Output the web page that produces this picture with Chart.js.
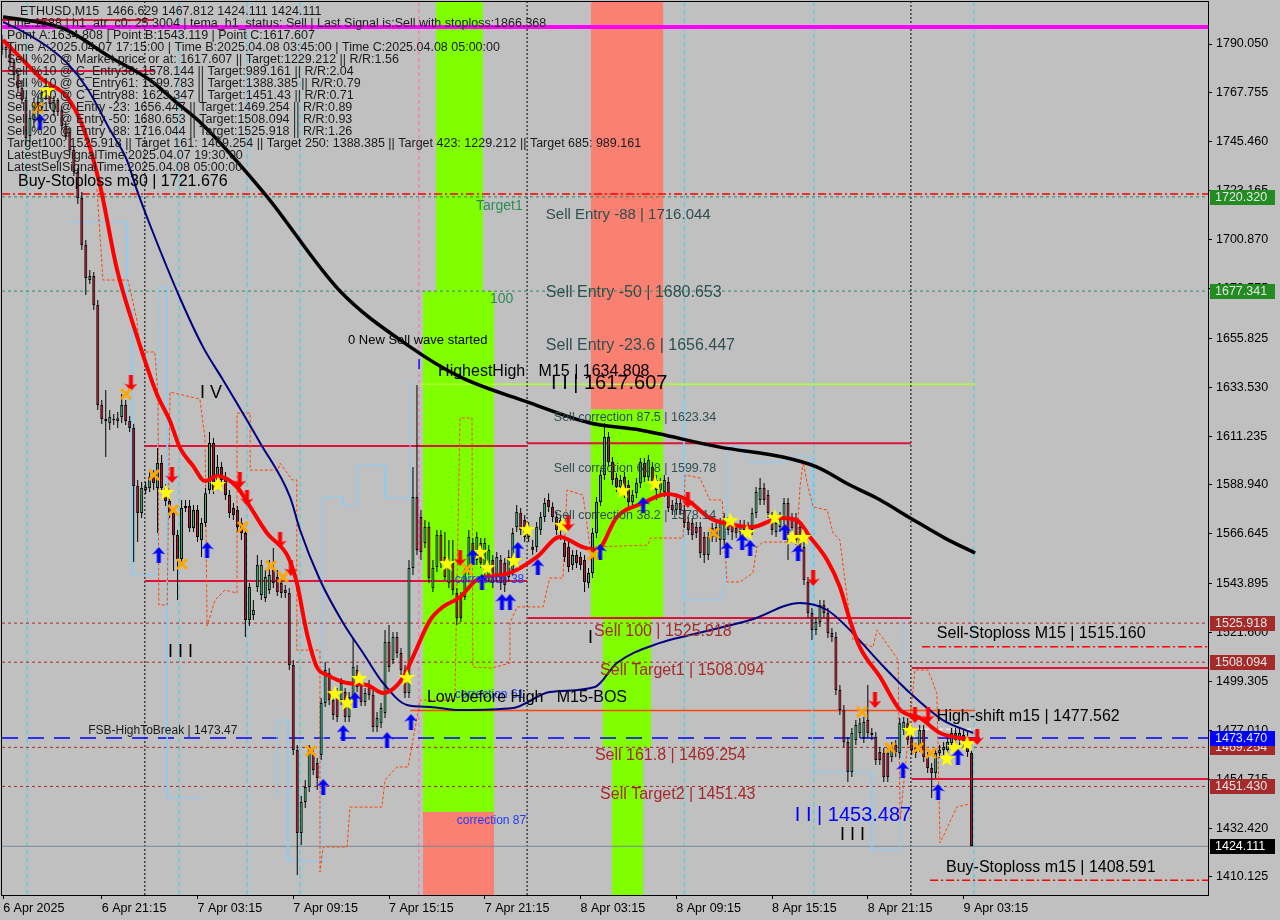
<!DOCTYPE html>
<html lang="en">
<head>
<meta charset="UTF-8">
<title>ETHUSD,M15</title>
<script src="https://cdn.jsdelivr.net/npm/chart.js"></script>
<style>
  html, body { margin: 0; padding: 0; background: #c0c0c0; }
  canvas { display: block; }
</style>
</head>
<body>
<canvas id="ethChart" width="1280" height="920"></canvas>
<script>
const FONT = '"Liberation Sans", Arial, sans-serif';

// M15 candles, bar 0 = 6 Apr 15:00
const opens = [1791.9,1787.3,1788.7,1781.8,1775.9,1770.0,1764.5,1748.1,1755.4,1763.6,
 1760.9,1767.2,1769.1,1759.0,1764.5,1759.9,1752.6,1749.9,1741.7,1731.7,
 1719.8,1698.4,1682.4,1684.2,1671.0,1625.4,1619.0,1617.2,1619.0,1618.1,
 1619.9,1625.4,1618.1,1614.9,1588.5,1576.1,1586.6,1587.5,1592.6,1587.5,
 1598.9,1587.5,1581.6,1576.1,1566.1,1555.2,1578.4,1579.3,1569.3,1577.5,
 1563.8,1571.6,1586.6,1608.1,1591.2,1597.1,1592.6,1584.3,1578.4,1577.5,
 1571.6,1567.0,1527.3,1529.6,1542.4,1538.7,1537.4,1541.0,1550.2,1546.9,
 1544.2,1541.0,1539.6,1506.8,1468.0,1430.2,1444.3,1451.2,1466.7,1462.1,
 1465.8,1489.5,1503.2,1490.8,1494.5,1490.8,1494.5,1483.1,1492.2,1504.5,
 1497.7,1489.9,1497.7,1493.1,1478.5,1480.3,1484.9,1517.3,1509.1,1519.6,
 1512.3,1504.5,1494.0,1551.0,1583.4,1574.3,1562.5,1569.8,1541.9,1551.5,
 1566.1,1556.1,1544.2,1553.3,1539.6,1537.8,1537.8,1550.2,1562.5,1554.7,
 1562.5,1550.2,1546.9,1554.7,1546.9,1554.7,1553.3,1546.9,1550.2,1569.8,
 1576.1,1572.9,1565.2,1560.6,1560.6,1568.4,1574.3,1582.1,1578.9,1574.3,
 1568.4,1562.5,1560.6,1552.4,1557.0,1556.1,1554.7,1544.2,1548.8,1567.0,
 1581.2,1593.5,1610.8,1599.4,1592.1,1588.0,1592.6,1588.9,1581.2,1585.2,
 1589.8,1598.9,1592.6,1597.1,1591.2,1586.6,1585.7,1590.3,1579.8,1577.5,
 1580.7,1577.5,1572.0,1571.6,1569.8,1569.8,1565.2,1557.0,1565.2,1569.8,
 1563.8,1563.8,1572.0,1570.7,1569.3,1567.5,1570.7,1569.8,1568.4,1576.1,
 1582.1,1587.5,1584.3,1574.3,1567.5,1569.8,1572.9,1580.7,1573.9,1573.9,
 1569.8,1560.6,1544.7,1530.5,1522.8,1526.4,1534.2,1530.5,1521.4,1519.6,
 1495.4,1486.3,1471.7,1458.0,1472.6,1475.8,1473.5,1481.7,1475.8,1474.0,
 1467.1,1466.7,1466.7,1464.9,1470.3,1466.7,1477.2,1480.3,1473.5,1469.0,
 1469.4,1477.2,1464.9,1459.8,1457.6,1466.7,1468.0,1468.0,1471.2,1475.8,
 1472.6,1474.9,1474.0,1466.629];
const highs = [1794.2,1791.0,1790.0,1782.8,1778.2,1773.6,1765.9,1760.0,1765.4,1766.3,
 1770.0,1771.8,1770.9,1766.3,1765.4,1761.8,1754.5,1751.7,1743.5,1733.5,
 1722.6,1700.7,1687.0,1686.1,1673.3,1627.7,1632.2,1623.1,1621.3,1622.2,
 1630.4,1627.7,1620.4,1616.7,1591.2,1590.3,1590.3,1595.7,1595.7,1605.8,
 1602.6,1589.4,1583.9,1578.4,1568.4,1582.1,1582.1,1582.1,1579.8,1579.8,
 1573.9,1587.5,1613.1,1610.3,1602.6,1599.4,1594.8,1586.6,1580.7,1579.3,
 1573.9,1569.3,1544.2,1536.5,1557.0,1554.7,1550.2,1554.7,1560.2,1550.2,
 1546.5,1543.3,1541.9,1509.1,1470.3,1447.1,1454.4,1470.3,1469.0,1464.4,
 1491.8,1508.2,1505.4,1493.1,1496.3,1500.9,1496.3,1494.5,1519.1,1506.8,
 1500.0,1496.3,1500.0,1495.4,1485.4,1489.5,1522.8,1525.1,1521.9,1521.9,
 1514.6,1506.8,1554.7,1597.1,1634.5,1577.5,1572.9,1572.0,1554.7,1568.4,
 1568.4,1567.5,1563.8,1563.8,1541.9,1540.1,1552.4,1568.4,1564.7,1567.5,
 1564.7,1564.7,1561.5,1557.0,1558.4,1557.0,1555.6,1559.3,1569.3,1579.8,
 1578.4,1575.2,1572.0,1563.8,1572.0,1576.6,1583.0,1585.2,1581.1,1576.6,
 1575.2,1564.7,1562.9,1559.3,1559.3,1558.4,1557.0,1551.0,1569.3,1583.4,
 1595.7,1617.2,1613.1,1601.7,1594.4,1593.5,1594.8,1591.2,1586.6,1592.1,
 1601.2,1601.2,1602.6,1599.4,1593.5,1592.1,1593.5,1592.6,1582.1,1583.0,
 1583.0,1579.8,1574.3,1573.9,1572.0,1572.0,1567.5,1567.5,1571.6,1572.0,
 1573.9,1576.1,1574.3,1572.9,1571.6,1572.9,1572.9,1572.0,1578.4,1588.0,
 1592.1,1589.8,1586.6,1576.6,1573.9,1576.6,1583.0,1583.0,1576.1,1576.1,
 1572.0,1562.9,1547.0,1532.8,1528.7,1536.5,1536.5,1532.8,1523.7,1521.9,
 1497.7,1488.6,1474.0,1478.1,1481.7,1482.6,1483.1,1497.7,1478.1,1476.3,
 1469.4,1469.0,1469.0,1471.7,1472.6,1482.6,1483.1,1482.6,1475.8,1471.2,
 1479.4,1479.4,1467.1,1462.1,1469.0,1470.3,1471.7,1474.0,1478.1,1478.1,
 1478.1,1477.2,1476.3,1467.812];
const lows = [1785.0,1783.7,1780.0,1773.6,1768.2,1762.7,1744.0,1745.4,1751.7,1757.2,
 1759.0,1764.5,1760.9,1757.2,1757.2,1750.8,1746.3,1739.4,1729.9,1717.1,
 1696.1,1675.6,1680.6,1668.7,1623.1,1616.7,1601.7,1614.0,1616.3,1614.9,
 1617.2,1616.3,1613.1,1553.8,1562.9,1573.9,1584.8,1585.7,1586.6,1567.0,
 1585.7,1579.3,1573.9,1549.7,1536.5,1553.3,1576.6,1567.5,1567.5,1562.9,
 1556.1,1569.8,1584.8,1584.8,1589.4,1588.5,1582.1,1573.9,1572.9,1567.5,
 1563.8,1519.6,1524.6,1527.3,1540.1,1536.5,1535.6,1539.2,1541.9,1538.3,
 1537.4,1537.4,1504.5,1465.8,1411.0,1424.7,1441.6,1448.9,1456.6,1449.8,
 1463.5,1487.7,1488.6,1481.7,1480.8,1488.6,1480.8,1480.8,1490.8,1494.5,
 1488.1,1488.1,1490.8,1476.3,1476.3,1478.1,1482.6,1503.6,1507.3,1510.0,
 1502.3,1491.8,1491.8,1547.9,1557.0,1554.7,1560.2,1544.2,1540.1,1549.2,
 1551.0,1545.6,1541.9,1538.7,1525.1,1526.4,1536.5,1547.9,1553.8,1552.4,
 1551.0,1547.9,1544.7,1541.9,1544.7,1541.0,1540.1,1544.7,1547.9,1567.5,
 1566.1,1562.9,1562.9,1557.0,1558.4,1566.1,1572.0,1576.6,1572.0,1566.1,
 1563.8,1553.8,1549.2,1550.2,1551.0,1550.2,1540.1,1541.9,1546.5,1564.7,
 1579.3,1591.2,1597.1,1588.9,1585.7,1585.7,1583.0,1578.9,1578.9,1583.0,
 1587.5,1590.3,1590.3,1588.0,1582.1,1584.3,1583.4,1576.6,1575.2,1575.2,
 1575.2,1569.3,1566.1,1563.8,1564.7,1555.6,1553.3,1554.7,1562.9,1562.9,
 1557.0,1561.5,1566.1,1563.8,1564.7,1565.2,1566.1,1565.2,1566.1,1573.9,
 1579.8,1579.8,1573.9,1566.1,1565.2,1567.5,1570.7,1554.7,1567.0,1561.5,
 1558.4,1543.3,1528.3,1518.2,1520.5,1524.1,1528.3,1519.1,1517.3,1493.1,
 1484.0,1469.4,1453.5,1455.7,1470.3,1473.5,1471.2,1473.5,1472.6,1461.2,
 1461.2,1453.5,1453.5,1462.6,1464.9,1464.4,1474.9,1470.3,1465.8,1464.4,
 1467.1,1462.6,1457.6,1446.1,1455.3,1464.4,1465.8,1465.8,1469.0,1470.3,
 1470.3,1469.0,1464.9,1424.111];
const closes = [1787.3,1788.7,1781.8,1775.9,1770.0,1764.5,1747.2,1756.3,1763.6,1759.9,
 1768.2,1770.0,1762.7,1764.5,1759.0,1752.6,1748.1,1741.7,1731.7,1719.8,
 1698.4,1683.3,1684.2,1671.0,1625.4,1619.0,1618.1,1619.9,1618.6,1619.4,
 1625.4,1618.1,1614.9,1588.5,1576.1,1587.5,1588.0,1592.6,1589.8,1598.9,
 1587.5,1581.6,1576.1,1566.1,1555.2,1578.4,1579.3,1569.3,1577.5,1565.2,
 1571.6,1585.2,1608.1,1586.6,1597.1,1591.2,1584.3,1576.1,1575.2,1569.8,
 1567.0,1527.3,1542.4,1531.9,1552.4,1552.4,1546.9,1547.9,1544.2,1540.1,
 1539.6,1539.6,1506.8,1468.0,1430.2,1444.3,1451.2,1468.0,1458.9,1455.3,
 1489.5,1504.5,1490.8,1484.0,1483.1,1498.6,1483.1,1492.2,1505.9,1496.8,
 1489.9,1494.0,1493.1,1478.5,1482.6,1487.2,1517.3,1505.9,1519.6,1512.3,
 1504.5,1494.0,1551.0,1583.4,1559.3,1558.4,1569.8,1546.5,1551.0,1566.1,
 1553.3,1546.9,1553.3,1541.0,1528.3,1528.3,1550.2,1565.2,1556.1,1565.2,
 1553.3,1562.5,1559.3,1544.2,1556.1,1544.2,1543.3,1556.1,1567.0,1576.6,
 1568.4,1565.2,1569.8,1559.3,1569.8,1574.3,1580.7,1578.9,1574.3,1568.4,
 1572.9,1556.1,1551.5,1557.0,1553.3,1552.4,1544.7,1548.8,1567.0,1581.2,
 1593.5,1610.8,1599.4,1591.2,1588.0,1591.2,1585.2,1581.2,1584.3,1589.8,
 1599.4,1592.6,1600.3,1590.3,1586.6,1589.8,1591.2,1578.4,1577.5,1580.7,
 1577.5,1571.6,1568.4,1566.1,1567.0,1557.9,1557.0,1565.2,1569.3,1565.2,
 1571.6,1573.9,1568.4,1567.5,1567.0,1570.7,1568.4,1567.5,1576.1,1585.7,
 1587.5,1582.1,1576.1,1568.4,1571.6,1574.3,1580.7,1567.0,1569.3,1563.8,
 1560.6,1545.6,1530.5,1522.8,1526.4,1534.2,1530.5,1521.4,1519.6,1495.4,
 1486.3,1471.7,1458.0,1475.8,1479.4,1480.3,1480.8,1475.8,1474.9,1463.5,
 1463.5,1455.7,1455.7,1469.4,1467.1,1480.3,1480.8,1472.6,1468.0,1466.7,
 1477.2,1464.9,1459.8,1457.6,1466.7,1468.0,1469.4,1471.7,1475.8,1472.6,
 1475.8,1471.2,1467.1,1424.111];

// axis ticks
const xTickPos = [0.3, 25, 49, 73, 97, 121, 145, 169, 193, 217, 241];
const xTickLabels = ['6 Apr 2025', '6 Apr 21:15', '7 Apr 03:15', '7 Apr 09:15', '7 Apr 15:15',
  '7 Apr 21:15', '8 Apr 03:15', '8 Apr 09:15', '8 Apr 15:15', '8 Apr 21:15', '9 Apr 03:15'];
const yTickValues = [1790.050, 1767.755, 1745.460, 1723.165, 1700.870, 1678.575, 1655.825, 1633.530,
  1611.235, 1588.940, 1566.645, 1543.895, 1521.600, 1499.305, 1477.010, 1454.715, 1432.420, 1410.125];
const X_MAX = 302.26, Y_MIN = 1401.91, Y_MAX = 1809.21;

// moving averages, read as [bar, price]
const blackMA = [[0.25,1802.4],[10.3,1799.6],[16.3,1796.4],[27.1,1784.1],[37.1,1773.6],[43.9,1763.1],
  [49.6,1754.5],[65.9,1721.6],[84.7,1677.4],[102.3,1651.9],[114.8,1638.2],[131.6,1626.8],[147.4,1617.2],
  [159.9,1614.0],[179.9,1606.2],[195.7,1601.7],[204.3,1597.1],[212.5,1588.9],[220.1,1582.1],[227.6,1573.9],
  [236.3,1564.7],[243.9,1557.9]];
const navyMA = [[0.25,1800.1],[4.5,1796.4],[10.8,1789.6],[16.3,1781.4],[21.3,1770.0],[27.1,1750.8],
  [31.3,1737.1],[33.8,1723.5],[37.1,1707.5],[44.6,1674.2],[50.4,1651.8],[55.4,1636.8],[64.7,1608.1],
  [72.2,1583.4],[74.7,1568.4],[79.7,1545.6],[85.5,1526.0],[90.5,1512.3],[95.5,1498.6],[101.5,1488.6],
  [107.3,1487.7],[114.8,1486.3],[128.1,1487.2],[137.3,1494.5],[148.6,1496.8],[154.1,1507.7],[164.9,1516.9],
  [172.4,1520.5],[187.5,1527.3],[200.0,1535.1],[206.8,1531.9],[211.8,1524.1],[220.1,1507.7],[227.6,1494.0],
  [235.8,1481.7],[243.4,1475.8]];
const redMA = [[0.25,1791.9],[4.5,1784.1],[10.3,1773.6],[16.3,1765.9],[20.3,1752.2],[24.6,1725.3],
  [28.8,1687.4],[33.8,1656.9],[38.8,1630.4],[42.1,1618.1],[44.6,1605.8],[47.9,1597.6],[50.9,1590.7],
  [53.9,1593.0],[58.9,1588.0],[62.2,1578.9],[66.4,1567.0],[71.7,1556.1],[73.9,1544.2],[76.4,1521.4],
  [78.9,1505.9],[81.5,1502.3],[86.5,1498.6],[91.5,1497.7],[95.5,1494.0],[100.5,1500.9],[103.0,1510.5],
  [107.3,1527.3],[110.5,1533.3],[114.8,1537.8],[119.0,1545.6],[127.3,1548.8],[134.1,1556.1],[139.8,1565.2],
  [145.6,1560.6],[149.1,1559.3],[154.1,1574.3],[160.7,1580.7],[166.7,1584.8],[171.7,1582.1],[177.4,1573.9],
  [183.2,1570.7],[188.2,1569.8],[195.0,1573.9],[199.2,1572.9],[202.5,1565.2],[206.8,1554.7],[210.0,1542.4],
  [212.5,1527.3],[215.0,1515.0],[220.1,1501.3],[225.1,1486.3],[230.1,1482.6],[235.1,1475.8],[240.1,1473.5],
  [244.4,1472.6]];
const envelope = [[23.8,1723.9],[25.3,1682.4],[31.6,1682.4],[33.8,1664.2],[34.6,1649.6],[38.3,1649.6],
  [39.1,1630.0],[39.3,1534.2],[41.4,1534.2],[42.1,1631.3],[49.6,1628.1],[50.9,1609.9],[51.4,1524.6],
  [53.4,1536.5],[55.9,1541.0],[58.9,1539.6],[58.9,1621.7],[62.2,1621.7],[62.2,1595.7],[69.2,1595.7],
  [69.7,1598.9],[72.7,1591.2],[73.9,1591.2],[73.9,1513.6],[79.7,1513.6],[79.7,1412.4],[80.5,1423.8],
  [86.5,1423.8],[87.2,1442.0],[95.2,1442.0],[96.0,1454.4],[99.0,1460.3],[101.8,1460.3],[103.0,1472.6],
  [104.8,1490.8],[113.5,1490.8],[114.8,1619.5],[117.8,1619.5],[118.0,1505.9],[122.8,1505.4],[127.3,1507.7],
  [127.3,1526.0],[129.1,1533.3],[135.6,1533.3],[137.3,1546.5],[140.6,1546.5],[141.6,1586.6],[145.6,1584.3],
  [147.4,1560.6],[161.9,1561.5],[162.4,1564.7],[170.7,1564.7],[171.2,1593.5],[174.9,1592.1],[177.4,1582.1],
  [180.5,1582.1],[181.7,1544.7],[185.0,1544.7],[188.2,1548.8],[189.2,1560.6],[190.7,1562.9],[199.2,1562.9],
  [200.0,1588.0],[200.8,1599.4],[201.8,1589.8],[203.3,1578.9],[206.8,1577.5],[208.3,1567.0],[210.0,1563.8],
  [211.8,1537.8],[213.3,1518.2],[218.3,1515.0],[219.3,1522.8],[224.6,1509.1],[225.1,1436.1],[228.8,1504.5],
  [232.1,1504.5],[234.3,1494.0],[235.1,1425.6],[239.3,1442.0],[243.4,1443.9]];
// stepped channel, null price = break
const stepChannel = [[16.3,1708.9],[31.3,1708.9],[31.3,1669.2],[32.6,1669.2],[32.6,1547.9],[38.8,1547.9],
  [39.3,1679.2],[41.4,1679.2],[41.4,1446.1],[50.4,1446.1],[50.5,null],
  [68.9,1446.6],[68.9,1481.7],[71.7,1481.7],[71.7,1417.9],[80.5,1417.0],[80.5,1583.4],[85.5,1583.4],
  [85.5,1579.8],[89.0,1579.8],[89.0,1598.0],[96.0,1598.0],[96.0,1583.0],[102.3,1583.0],[102.3,1636.8],
  [102.4,null],
  [170.9,1627.7],[170.9,1536.5],[180.7,1536.5],[181.7,1557.9],[181.7,1606.2],[185.0,1606.2],[187.5,1599.4],
  [195.7,1599.4],[199.2,1602.6],[203.0,1601.7],[203.0,1490.8],[203.3,1458.0],[218.0,1458.0],[218.0,1422.4],
  [225.1,1422.4],[225.8,1527.3]];

// signal markers
const stars = [[11.3,1769.1],[41.1,1585.7],[54.1,1589.4],[83.5,1494.0],[86.5,1489.9],[89.5,1500.9],
  [101.5,1501.3],[111.5,1553.3],[119.8,1558.4],[121.6,1551.5],[128.3,1554.7],[131.6,1568.8],[140.4,1570.7],
  [155.6,1586.6],[163.7,1589.8],[182.5,1572.9],[186.7,1567.5],[193.7,1574.3],[198.0,1565.2],[200.8,1565.2],
  [227.6,1477.2],[236.8,1464.4],[238.8,1469.4],[241.9,1471.2]];
const crosses = [[9.0,1760.9],[31.1,1630.4],[38.1,1593.5],[42.9,1577.5],[45.1,1552.9],[60.4,1569.8],
  [67.4,1552.0],[70.4,1546.9],[77.4,1467.6],[116.5,1550.6],[148.1,1557.0],[178.4,1567.0],[215.5,1485.4],
  [222.6,1469.0],[229.6,1469.0],[232.8,1466.7]];
const upArrows = [[9.5,1754.5],[39.3,1557.0],[51.4,1559.3],[80.5,1451.2],[85.5,1475.8],[88.5,1490.8],
  [96.5,1472.6],[102.5,1480.8],[118.0,1556.1],[120.3,1544.7],[125.3,1535.5],[127.3,1535.5],[129.3,1559.3],
  [134.3,1551.5],[149.9,1558.4],[160.7,1579.8],[181.7,1559.3],[185.5,1562.9],[187.5,1560.2],[196.2,1567.5],
  [199.5,1557.9],[225.8,1458.9],[234.6,1448.9],[239.6,1464.9]];
const downArrows = [[32.3,1635.4],[42.6,1593.5],[59.6,1591.2],[61.4,1583.0],[69.7,1563.8],[72.4,1551.0],
  [114.8,1555.6],[141.9,1571.6],[171.9,1582.1],[203.3,1546.5],[218.8,1490.8],[228.8,1484.0],[232.1,1484.0],
  [244.4,1474.0]];

// horizontal levels: [price, fromBar, toBar, kind]
const levels = [
  [1797.8, 0, X_MAX, 'magenta'], [1801.0, 0, 38.1, 'range'], [1777.7, 0, 38.1, 'range'],
  [1721.676, 0, X_MAX, 'stop'], [1720.32, 0, X_MAX, 'green'], [1677.341, 0, X_MAX, 'green'],
  [1634.808, 104.8, 243.9, 'hh'], [1606.7, 35.8, 131.6, 'range'], [1608.0, 131.6, 227.8, 'range'],
  [1545.1, 35.8, 131.6, 'range'], [1528.3, 131.6, 227.8, 'range'], [1525.918, 0, X_MAX, 'brown'],
  [1515.16, 230.6, X_MAX, 'stop'], [1508.094, 0, X_MAX, 'brown'], [1505.4, 228, X_MAX, 'range'],
  [1486.1, 102.3, 243.9, 'bos'], [1477.562, 227.8, 243.9, 'white'], [1473.47, 0, X_MAX, 'blue'],
  [1469.254, 0, X_MAX, 'brown'], [1454.8, 228, X_MAX, 'range'], [1451.43, 0, X_MAX, 'brown'],
  [1424.111, 0, X_MAX, 'bid'], [1408.591, 232.6, X_MAX, 'stop']
];
const daySeparators = [35.8, 131.6, 227.8];
const cyanMarks = [6.3, 44.4, 61.4, 74.7, 171, 203.5, 243.6];
const pinkMarks = [104.5];

// zones: [fromBar, toBar, topPrice, bottomPrice, kind]
const zones = [
  [108.8, 120.5, Y_MAX, 1677.341, 'buy'], [105.5, 123.3, 1677.341, 1439.8, 'buy'],
  [105.5, 123.3, 1439.8, Y_MIN, 'sell'], [147.6, 165.7, Y_MAX, 1623.34, 'sell'],
  [147.6, 165.7, 1623.34, 1528.3, 'buy'], [150.6, 162.7, 1528.3, 1469.254, 'buy'],
  [152.9, 160.7, 1469.254, Y_MIN, 'buy']
];

// text objects: [text, bar, price, kind]
const chartLabels = [
  ['Buy-Stoploss m30 | 1721.676', 4.0, 1727.1, 'big'],
  ['Target1', 118.8, 1716.2, 'target'], ['100', 122.3, 1673.8, 'target'],
  ['Sell Entry -88 | 1716.044', 136.3, 1712.1, 'entrySmall'],
  ['Sell Entry -50 | 1680.653', 136.3, 1676.5, 'entry'],
  ['Sell Entry -23.6 | 1656.447', 136.3, 1652.3, 'entry'],
  ['0 New Sell wave started', 86.7, 1655.0, 'note'],
  ['I', 104.0, 1643.6, 'blueTick'],
  ['HighestHigh   M15 | 1634.808', 109.3, 1640.5, 'big'],
  ['I I | 1617.607', 137.6, 1635.0, 'wave'],
  ['I V', 49.6, 1630.9, 'waveNum'], ['I I I', 41.6, 1512.7, 'waveNum'], ['I', 146.9, 1519.1, 'waveNum'],
  ['Sell correction 87.5 | 1623.34', 138.3, 1619.9, 'corr'],
  ['Sell correction 61.8 | 1599.78', 138.3, 1596.2, 'corr'],
  ['Sell correction 38.2 | 1578.14', 138.3, 1574.8, 'corr'],
  ['correction 38', 113.5, 1545.6, 'blueSmall'],
  ['Sell 100 | 1525.918', 148.4, 1521.9, 'brown'],
  ['Sell Target1 | 1508.094', 149.9, 1504.1, 'brown'],
  ['correction 61', 113.5, 1493.1, 'blueSmall'],
  ['Low before High   M15-BOS', 106.5, 1491.8, 'big'],
  ['FSB-HighToBreak | 1473.47', 21.6, 1476.7, 'small'],
  ['Sell 161.8 | 1469.254', 148.6, 1465.3, 'brown'],
  ['Sell Target2 | 1451.43', 149.9, 1447.5, 'brown'],
  ['correction 87', 114.0, 1435.7, 'blueSmall'],
  ['I I | 1453.487', 198.7, 1438.4, 'waveBlue'],
  ['I I I', 210.0, 1429.3, 'waveNum'],
  ['Sell-Stoploss M15 | 1515.160', 234.3, 1521.0, 'big'],
  ['High-shift m15 | 1477.562', 234.3, 1483.1, 'big'],
  ['Buy-Stoploss m15 | 1408.591', 236.6, 1414.2, 'big']
];
const headerLines = [
  'ETHUSD,M15  1466.629 1467.812 1424.111 1424.111',
  'Line:1588 | h1_atr_c0: 25.3004 | tema_h1_status: Sell | Last Signal is:Sell with stoploss:1866.368',
  'Point A:1634.808 | Point B:1543.119 | Point C:1617.607',
  'Time A:2025.04.07 17:15:00 | Time B:2025.04.08 03:45:00 | Time C:2025.04.08 05:00:00',
  'Sell %20 @ Market price or at: 1617.607 || Target:1229.212 || R/R:1.56',
  'Sell %10 @ C_Entry38: 1578.144 || Target:989.161 || R/R:2.04',
  'Sell %10 @ C_Entry61: 1599.783 || Target:1388.385 || R/R:0.79',
  'Sell %10 @ C_Entry88: 1623.347 || Target:1451.43 || R/R:0.71',
  'Sell %10 @ Entry -23: 1656.447 || Target:1469.254 || R/R:0.89',
  'Sell %20 @ Entry -50: 1680.653 || Target:1508.094 || R/R:0.93',
  'Sell %20 @ Entry -88: 1716.044 || Target:1525.918 || R/R:1.26',
  'Target100: 1525.918 || Target 161: 1469.254 || Target 250: 1388.385 || Target 423: 1229.212 || Target 685: 989.161',
  'LatestBuySignalTime:2025.04.07 19:30:00',
  'LatestSellSignalTime:2025.04.08 05:00:00'
];
const priceTags = [[1720.320, '#228b22'], [1677.341, '#228b22'], [1525.918, '#a52a2a'], [1508.094, '#a52a2a'],
  [1469.254, '#a52a2a'], [1473.470, '#0000ff'], [1451.430, '#a52a2a'], [1424.111, '#000000']];

// ---- styles ----
const levelStyle = {
  magenta: { color: '#ff00ff', width: 4, dash: [] },
  range: { color: '#dc143c', width: 2, dash: [] },
  stop: { color: '#ff0000', width: 1.5, dash: [8, 3, 2, 3] },
  green: { color: '#2e8b57', width: 1, dash: [3, 3] },
  brown: { color: '#a52a2a', width: 1, dash: [3, 3] },
  blue: { color: '#0000ff', width: 1.5, dash: [16, 10] },
  hh: { color: '#adff2f', width: 1.5, dash: [] },
  bos: { color: '#ff4500', width: 1.5, dash: [] },
  white: { color: '#ffffff', width: 1, dash: [4, 3] },
  bid: { color: '#778899', width: 1, dash: [] }
};
const zoneColor = { buy: '#7fff00', sell: '#fa8072' };
const labelStyle = {
  big: [16, '#000'], target: [14, '#2e8b57'], entrySmall: [15, '#2f4f4f'], entry: [16, '#2f4f4f'],
  note: [13, '#000'], small: [12, '#1a1a1a'], blueTick: [15, '#0000ff'], wave: [20, '#000'],
  waveBlue: [20, '#0000ff'], waveNum: [18, '#000'], corr: [12.5, '#2f4f4f'], blueSmall: [12, '#1e3cff'],
  brown: [16, '#a52a2a']
};

// ---- marker images ----
function makeCanvas(w, h, draw) {
  const c = document.createElement('canvas');
  c.width = w; c.height = h;
  draw(c.getContext('2d'));
  return c;
}
const starImg = makeCanvas(18, 18, g => {
  g.fillStyle = '#ffff00';
  g.beginPath();
  for (let k = 0; k < 10; k++) {
    const r = k % 2 ? 3.6 : 8.8;
    const a = -Math.PI / 2 + k * Math.PI / 5;
    const px = 9 + r * Math.cos(a), py = 9.8 + r * Math.sin(a);
    if (k) g.lineTo(px, py); else g.moveTo(px, py);
  }
  g.closePath();
  g.fill();
});
const crossImg = makeCanvas(12, 12, g => {
  g.strokeStyle = '#ffa500';
  g.lineWidth = 3;
  g.beginPath();
  g.moveTo(1, 1); g.lineTo(11, 11);
  g.moveTo(11, 1); g.lineTo(1, 11);
  g.stroke();
});
function arrowImg(color, down) {
  return makeCanvas(13, 16, g => {
    if (down) { g.translate(0, 16); g.scale(1, -1); }
    g.fillStyle = color;
    g.beginPath();
    g.moveTo(6.5, 0); g.lineTo(13, 7.5); g.lineTo(8.5, 6); g.lineTo(8.5, 16);
    g.lineTo(4.5, 16); g.lineTo(4.5, 6); g.lineTo(0, 7.5);
    g.closePath();
    g.fill();
  });
}
const upImg = arrowImg('#0000ff', false);
const downImg = arrowImg('#ff0000', true);

// ---- datasets ----
const pts = arr => arr.map(([x, y]) => ({ x, y }));
const bars = opens.map((_, i) => i);

const datasets = [];
datasets.push({
  type: 'bar', label: 'wicks', order: 6,
  data: bars.map(i => ({ x: i, y: [lows[i], highs[i]] })),
  backgroundColor: '#000', borderWidth: 0, barThickness: 1, grouped: false, inflateAmount: 0
});
datasets.push({
  type: 'bar', label: 'bodies', order: 5,
  data: bars.map(i => ({ x: i, y: [opens[i], closes[i]] })),
  backgroundColor: bars.map(i => closes[i] >= opens[i] ? '#3cb371' : '#c8102e'),
  borderColor: '#000', borderWidth: 1, borderSkipped: false, barThickness: 3,
  minBarLength: 1, grouped: false, inflateAmount: 0
});

function lineSet(data, color, width, dash, order, smooth) {
  return {
    type: 'line', data, borderColor: color, borderWidth: width, borderDash: dash || [],
    pointRadius: 0, fill: false, order, spanGaps: false,
    cubicInterpolationMode: smooth ? 'monotone' : 'default', tension: 0
  };
}
levels.forEach(([p, a, b, kind]) => {
  const s = levelStyle[kind];
  datasets.push(lineSet([{ x: a, y: p }, { x: b, y: p }], s.color, s.width, s.dash, 9));
});
daySeparators.forEach(v => datasets.push(lineSet([{ x: v, y: Y_MIN }, { x: v, y: Y_MAX }], '#000', 1, [2, 2], 10)));
cyanMarks.forEach(v => datasets.push(lineSet([{ x: v, y: Y_MIN }, { x: v, y: Y_MAX }], 'rgba(0,215,235,0.65)', 1, [5, 3], 10)));
pinkMarks.forEach(v => datasets.push(lineSet([{ x: v, y: Y_MIN }, { x: v, y: Y_MAX }], '#ff69b4', 1, [4, 3], 10)));

datasets.push(lineSet(pts(stepChannel), '#87cefa', 1, [], 8));
datasets.push(lineSet(pts(envelope), '#ff4500', 1, [3, 2], 7));
datasets.push(lineSet(pts(blackMA), '#000000', 3.5, [], 3, true));
datasets.push(lineSet(pts(navyMA), '#000080', 2, [], 3, true));
datasets.push(lineSet(pts(redMA), '#ff0000', 4, [], 2, true));

function markerSet(data, img) {
  return { type: 'line', data: pts(data), showLine: false, pointStyle: img, pointRadius: 6, order: 1 };
}
datasets.push(markerSet(crosses, crossImg));
datasets.push(markerSet(upArrows, upImg));
datasets.push(markerSet(downArrows, downImg));
datasets.push(markerSet(stars, starImg));

// ---- plugins ----
const backdrop = {
  id: 'backdrop',
  beforeDraw(chart) {
    const { ctx, width, height } = chart;
    ctx.save();
    ctx.fillStyle = '#c0c0c0';
    ctx.fillRect(0, 0, width, height);
    ctx.restore();
  }
};
const zonePlugin = {
  id: 'zones',
  beforeDatasetsDraw(chart) {
    const { ctx, scales: { x, y } } = chart;
    ctx.save();
    zones.forEach(([b0, b1, pTop, pBot, kind]) => {
      const x0 = x.getPixelForValue(b0), x1 = x.getPixelForValue(b1);
      const y0 = y.getPixelForValue(pTop), y1 = y.getPixelForValue(pBot);
      ctx.fillStyle = zoneColor[kind];
      ctx.fillRect(x0, y0, x1 - x0, y1 - y0);
    });
    ctx.restore();
  }
};
const textPlugin = {
  id: 'texts',
  afterDatasetsDraw(chart) {
    const { ctx, chartArea: a, scales: { x, y } } = chart;
    ctx.save();
    ctx.textBaseline = 'middle';
    ctx.textAlign = 'left';
    chartLabels.forEach(([text, bar, price, kind]) => {
      const [size, color] = labelStyle[kind];
      ctx.font = `${size}px ${FONT}`;
      ctx.fillStyle = color;
      ctx.fillText(text, x.getPixelForValue(bar), y.getPixelForValue(price));
    });
    ctx.font = `12.5px ${FONT}`;
    ctx.fillStyle = '#1a1a1a';
    headerLines.forEach((t, k) => ctx.fillText(t, a.left + (k ? 5 : 18), a.top + 10 + k * 12));
    ctx.restore();
  },
  afterDraw(chart) {
    const { ctx, chartArea: a, scales: { y } } = chart;
    ctx.save();
    ctx.strokeStyle = '#000';
    ctx.lineWidth = 1;
    ctx.strokeRect(a.left - 0.5, a.top - 0.5, a.right - a.left + 1, a.bottom - a.top + 1);
    ctx.font = `12.5px ${FONT}`;
    ctx.textBaseline = 'middle';
    ctx.textAlign = 'left';
    priceTags.forEach(([v, color]) => {
      const py = Math.round(y.getPixelForValue(v));
      ctx.fillStyle = color;
      ctx.fillRect(a.right + 2, py - 7, 65, 15);
      ctx.fillStyle = color === '#000000' ? '#ffffff' : '#e6e6e6';
      ctx.fillText(v.toFixed(3), a.right + 7, py + 0.5);
    });
    ctx.restore();
  }
};

Chart.defaults.font.family = FONT;
new Chart(document.getElementById('ethChart'), {
  type: 'bar',
  data: { datasets },
  options: {
    responsive: false,
    devicePixelRatio: 1,
    animation: false,
    events: [],
    layout: { padding: { left: 2, top: 2, right: 0, bottom: 0 }, autoPadding: false },
    plugins: { legend: { display: false }, tooltip: { enabled: false } },
    scales: {
      x: {
        type: 'linear', min: 0, max: X_MAX, offset: false,
        grid: { display: true, offset: false, drawOnChartArea: false, drawTicks: true, tickLength: 4, color: '#000' },
        border: { display: true, color: '#000' },
        ticks: {
          autoSkip: false, maxRotation: 0, align: 'start', padding: 2, color: '#000',
          font: { size: 12.5 }, callback: (v, k) => xTickLabels[k]
        },
        afterBuildTicks: s => { s.ticks = xTickPos.map(v => ({ value: v })); },
        afterFit: s => { s.height = 25; s.paddingLeft = 0; s.paddingRight = 0; }
      },
      y: {
        type: 'linear', position: 'right', min: Y_MIN, max: Y_MAX, beginAtZero: false,
        grid: { drawOnChartArea: false, drawTicks: true, tickLength: 4, color: '#000' },
        border: { display: true, color: '#000' },
        ticks: { padding: 4, color: '#000', font: { size: 12.5 }, callback: v => v.toFixed(3) },
        afterBuildTicks: s => { s.ticks = yTickValues.map(v => ({ value: v })); },
        afterFit: s => { s.width = 72; s.paddingTop = 0; s.paddingBottom = 0; }
      }
    }
  },
  plugins: [backdrop, zonePlugin, textPlugin]
});
</script>
</body>
</html>
